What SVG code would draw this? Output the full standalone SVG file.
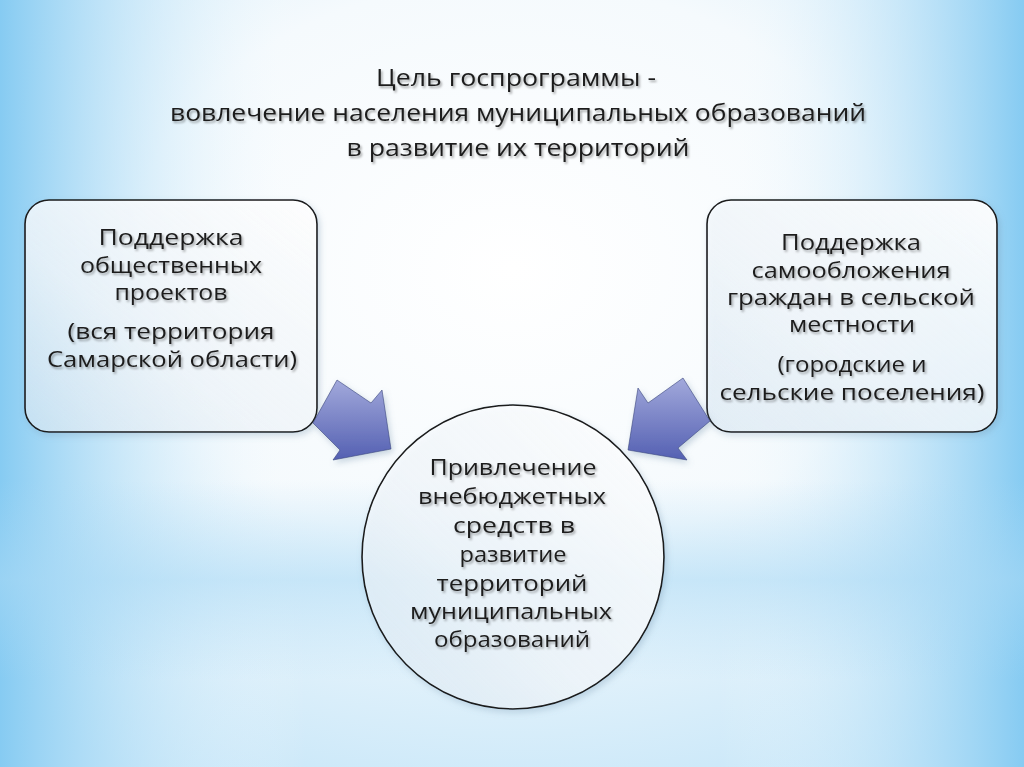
<svg xmlns="http://www.w3.org/2000/svg" width="1024" height="767" viewBox="0 0 1024 767">
<defs>
<linearGradient id="bgH" x1="0" y1="0" x2="1" y2="0">
<stop offset="0" stop-color="#86cbf2"/>
<stop offset="0.3" stop-color="#ffffff" stop-opacity="0"/>
<stop offset="0.7" stop-color="#ffffff" stop-opacity="0"/>
<stop offset="1" stop-color="#86cbf2"/>
</linearGradient>
<radialGradient id="bgR" cx="0.5" cy="0.35" r="0.75">
<stop offset="0" stop-color="#ffffff"/>
<stop offset="0.5" stop-color="#f5fafd"/>
<stop offset="1" stop-color="#c4e5f8"/>
</radialGradient>
<linearGradient id="band" x1="0" y1="0" x2="0" y2="1">
<stop offset="0" stop-color="#a9d9f5" stop-opacity="0"/>
<stop offset="0.5" stop-color="#a9d9f5" stop-opacity="0.55"/>
<stop offset="1" stop-color="#a9d9f5" stop-opacity="0"/>
</linearGradient>
<linearGradient id="boxFill" x1="1" y1="0" x2="0" y2="1">
<stop offset="0" stop-color="#ffffff" stop-opacity="0.95"/>
<stop offset="0.6" stop-color="#f4f9fd" stop-opacity="0.8"/>
<stop offset="1" stop-color="#e2f0fa" stop-opacity="0.6"/>
</linearGradient>
<linearGradient id="arrowFill" x1="0" y1="0" x2="0" y2="1">
<stop offset="0" stop-color="#a2a9db"/>
<stop offset="1" stop-color="#5460b2"/>
</linearGradient>
<filter id="tsh" x="-10%" y="-30%" width="120%" height="160%">
<feDropShadow dx="1.5" dy="2" stdDeviation="1.2" flood-color="#000" flood-opacity="0.35"/>
</filter>
<filter id="bsh" x="-10%" y="-10%" width="120%" height="120%">
<feDropShadow dx="2" dy="3" stdDeviation="3" flood-color="#6a8aa5" flood-opacity="0.35"/>
</filter>
<style>
.t{font-family:"Open Sans","Liberation Sans",sans-serif;font-size:21px;fill:#1e1e1e;text-anchor:middle;filter:url(#tsh)}
.title{font-size:23px}
.box{fill:url(#boxFill);stroke:#1a1a1a;stroke-width:1.6}
.arr{fill:url(#arrowFill);stroke:#3b447e;stroke-width:0.6;filter:url(#bsh)}
</style>
</defs>
<rect width="1024" height="767" fill="url(#bgR)"/>
<rect width="1024" height="767" fill="url(#bgH)"/>
<rect x="0" y="480" width="1024" height="200" fill="url(#band)"/>

<g id="title">
<text class="t title" x="516" y="86" textLength="280" lengthAdjust="spacingAndGlyphs">Цель госпрограммы -</text>
<text class="t title" x="518" y="121" textLength="696" lengthAdjust="spacingAndGlyphs">вовлечение населения муниципальных образований</text>
<text class="t title" x="518" y="156" textLength="343" lengthAdjust="spacingAndGlyphs">в развитие их территорий</text>
</g>

<g id="left-box">
<rect class="box" x="25" y="200" width="292" height="232" rx="24" filter="url(#bsh)"/>
<text class="t" x="171" y="245" textLength="145" lengthAdjust="spacingAndGlyphs">Поддержка</text>
<text class="t" x="171" y="273" textLength="182" lengthAdjust="spacingAndGlyphs">общественных</text>
<text class="t" x="171" y="300" textLength="113" lengthAdjust="spacingAndGlyphs">проектов</text>
<text class="t" x="171" y="339" textLength="207" lengthAdjust="spacingAndGlyphs">(вся территория</text>
<text class="t" x="172" y="367" textLength="250" lengthAdjust="spacingAndGlyphs">Самарской области)</text>
</g>

<g id="right-box">
<rect class="box" x="707" y="200" width="290" height="232" rx="24" filter="url(#bsh)"/>
<text class="t" x="851" y="250" textLength="140" lengthAdjust="spacingAndGlyphs">Поддержка</text>
<text class="t" x="851" y="278" textLength="199" lengthAdjust="spacingAndGlyphs">самообложения</text>
<text class="t" x="851" y="305" textLength="248" lengthAdjust="spacingAndGlyphs">граждан в сельской</text>
<text class="t" x="852" y="332" textLength="126" lengthAdjust="spacingAndGlyphs">местности</text>
<text class="t" x="852" y="372" textLength="149" lengthAdjust="spacingAndGlyphs">(городские и</text>
<text class="t" x="852" y="400" textLength="265" lengthAdjust="spacingAndGlyphs">сельские поселения)</text>
</g>

<g id="center-circle">
<ellipse class="box" cx="513" cy="557" rx="151" ry="152" filter="url(#bsh)"/>
<text class="t" x="513" y="475" textLength="167" lengthAdjust="spacingAndGlyphs">Привлечение</text>
<text class="t" x="512" y="504" textLength="188" lengthAdjust="spacingAndGlyphs">внебюджетных</text>
<text class="t" x="514" y="533" textLength="122" lengthAdjust="spacingAndGlyphs">средств в</text>
<text class="t" x="513" y="562" textLength="107" lengthAdjust="spacingAndGlyphs">развитие</text>
<text class="t" x="512" y="591" textLength="151" lengthAdjust="spacingAndGlyphs">территорий</text>
<text class="t" x="511" y="619" textLength="202" lengthAdjust="spacingAndGlyphs">муниципальных</text>
<text class="t" x="512" y="647" textLength="156" lengthAdjust="spacingAndGlyphs">образований</text>
</g>

<g id="connectors">
<polygon class="arr" points="337,380 371,403 382,390 391,449 333,460 340,450 313,423"/>
<polygon class="arr" points="683,378 710,421 678,448 687,460 628,450 638,388 648,403"/>
</g>
</svg>
